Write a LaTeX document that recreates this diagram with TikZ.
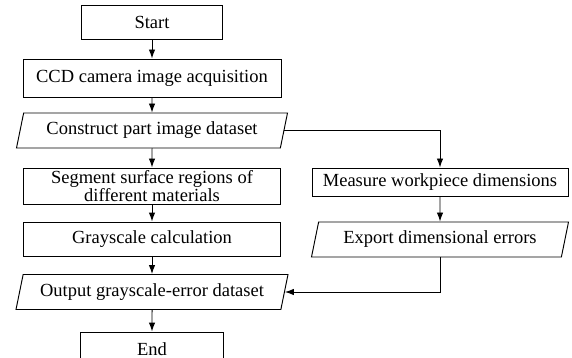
\documentclass[tikz,border=0pt]{standalone}
\usepackage{fontspec}
\setmainfont{Liberation Serif}
\usetikzlibrary{arrows.meta,shapes.geometric}

\begin{document}
\begin{tikzpicture}[>={Latex[length=9pt,width=6.5pt]}, x=1pt, y=-1pt,
  box/.style={draw, line width=0.95pt, inner sep=0pt, minimum height=34pt,
    font=\fontsize{18.5}{14}\selectfont, align=center},
  io/.style={box, trapezium, trapezium left angle=67, trapezium right angle=113,
    trapezium stretches body, minimum height=35pt},
  flow/.style={->, line width=0.95pt}]
  \useasboundingbox (0,0) rectangle (572,358);
  % main column
  \node[box, minimum width=141pt] (start) at (152,22) {Start};
  \node[box, minimum width=258pt, minimum height=38pt] (ccd) at (152,78) {CCD camera image acquisition};
  \node[io, minimum width=271pt] (cons) at (152,130.5) {Construct part image dataset};
  \node[box, minimum width=257pt, minimum height=36pt] (seg) at (152,186) {Segment surface regions of\\different materials};
  \node[box, minimum width=257pt] (gray) at (152,239) {Grayscale calculation};
  \node[io, minimum width=272pt] (out) at (152,292) {Output grayscale-error dataset};
  \node[box, minimum width=143pt] (end) at (152,349) {End};
  % right column
  \node[box, minimum width=256pt, minimum height=28pt] (meas) at (440,182) {Measure workpiece dimensions};
  \node[io, minimum width=257pt] (exp) at (440,239.5) {Export dimensional errors};
  % connectors
  \draw[flow] (start) -- (ccd);
  \draw[flow] (ccd) -- (cons);
  \draw[flow] (cons) -- (seg);
  \draw[flow] (seg) -- (gray);
  \draw[flow] (gray) -- (out);
  \draw[flow] (out) -- (end);
  \draw[flow] (cons.east) -| (meas.north);
  \draw[flow] (meas) -- (exp);
  \draw[flow] (exp.south) |- (out.east);
\end{tikzpicture}
\end{document}
